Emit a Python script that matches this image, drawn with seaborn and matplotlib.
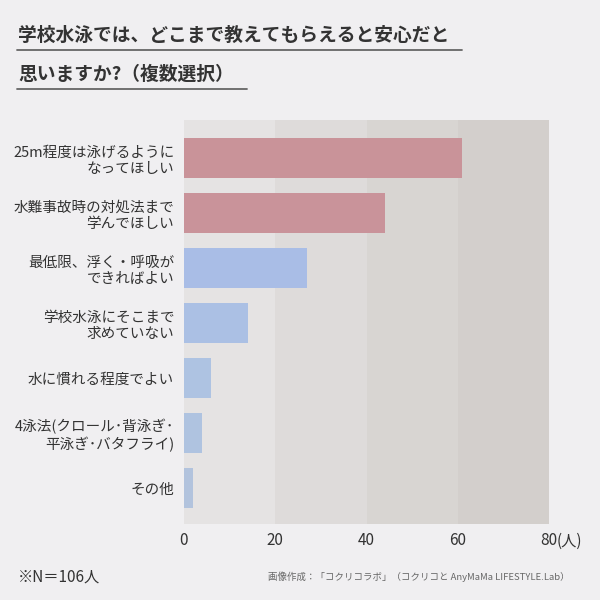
import matplotlib
matplotlib.use("Agg")
import matplotlib.pyplot as plt
import seaborn as sns
from matplotlib.lines import Line2D

# data
labels = [
    "25m程度は泳げるように\nなってほしい",
    "水難事故時の対処法まで\n学んでほしい",
    "最低限、浮く・呼吸が\nできればよい",
    "学校水泳にそこまで\n求めていない",
    "水に慣れる程度でよい",
    "4泳法(クロール･背泳ぎ･\n平泳ぎ･バタフライ)",
    "その他",
]
counts = [61, 44, 27, 14, 6, 4, 2]
bar_colors = ["#c99399", "#c9939a", "#a9bde6", "#abc0e4", "#aec3e2", "#afc3e0", "#b2c3dd"]
xticks = [0, 20, 40, 60, 80]
band_colors = ["#e5e3e3", "#dedbda", "#d8d5d2", "#d3cfcc"]

sns.set_theme(style="white")
plt.rcParams["font.family"] = ["Noto Sans CJK JP", "DejaVu Sans"]

bg = "#f0eff1"
text_col = "#333333"

fig = plt.figure(figsize=(6, 6), dpi=100)
fig.patch.set_facecolor(bg)
ax = fig.add_axes([184 / 600, 1 - 524 / 600, 365 / 600, 404 / 600])
ax.set_facecolor(band_colors[0])

# shaded bands behind the bars, one per tick interval
for lo, hi, c in zip(xticks[:-1], xticks[1:], band_colors):
    ax.axvspan(lo, hi, color=c, zorder=0, lw=0)

sns.barplot(x=counts, y=labels, hue=labels, palette=bar_colors, legend=False,
            orient="h", width=0.73, ax=ax, zorder=2, saturation=1, linewidth=0)

ax.set_xlim(0, 80)
ax.set_ylim(6.65, -0.69)
ax.set_xticks(xticks)
ax.set_xticklabels([str(t) for t in xticks])
ax.set_xlabel("")
ax.set_ylabel("")
for s in ax.spines.values():
    s.set_visible(False)
ax.tick_params(axis="y", length=0, pad=7, labelsize=10.5, labelcolor=text_col)
ax.tick_params(axis="x", length=0, pad=6, labelsize=11, labelcolor=text_col)
ax.annotate("(人)", xy=(xticks[-1], 0), xycoords=ax.get_xaxis_transform(),
            xytext=(5.5, -6), textcoords="offset points", ha="left", va="top",
            fontsize=11, color=text_col)
for lbl in ax.get_yticklabels():
    lbl.set_ha("right")
    lbl.set_multialignment("right")

# title with underlines
fig.text(18 / 600, 1 - 35 / 600, "学校水泳では、どこまで教えてもらえると安心だと",
         fontsize=13.5, fontweight="bold", color=text_col, va="center")
fig.text(18 / 600, 1 - 74 / 600, "思いますか?（複数選択）",
         fontsize=13.5, fontweight="bold", color=text_col, va="center")
fig.add_artist(Line2D([17 / 600, 462 / 600], [1 - 50 / 600, 1 - 50 / 600], color="#666666", lw=1.3))
fig.add_artist(Line2D([17 / 600, 247 / 600], [1 - 89 / 600, 1 - 89 / 600], color="#666666", lw=1.3))

fig.text(18 / 600, 1 - 577 / 600, "※N＝106人", fontsize=11, color=text_col, va="center")
fig.text(570 / 600, 1 - 577 / 600, "画像作成：「コクリコラボ」（コクリコと AnyMaMa LIFESTYLE.Lab）",
         fontsize=6.8, color="#666666", va="center", ha="right")

fig.savefig("out.png", dpi=100, facecolor=fig.get_facecolor())
